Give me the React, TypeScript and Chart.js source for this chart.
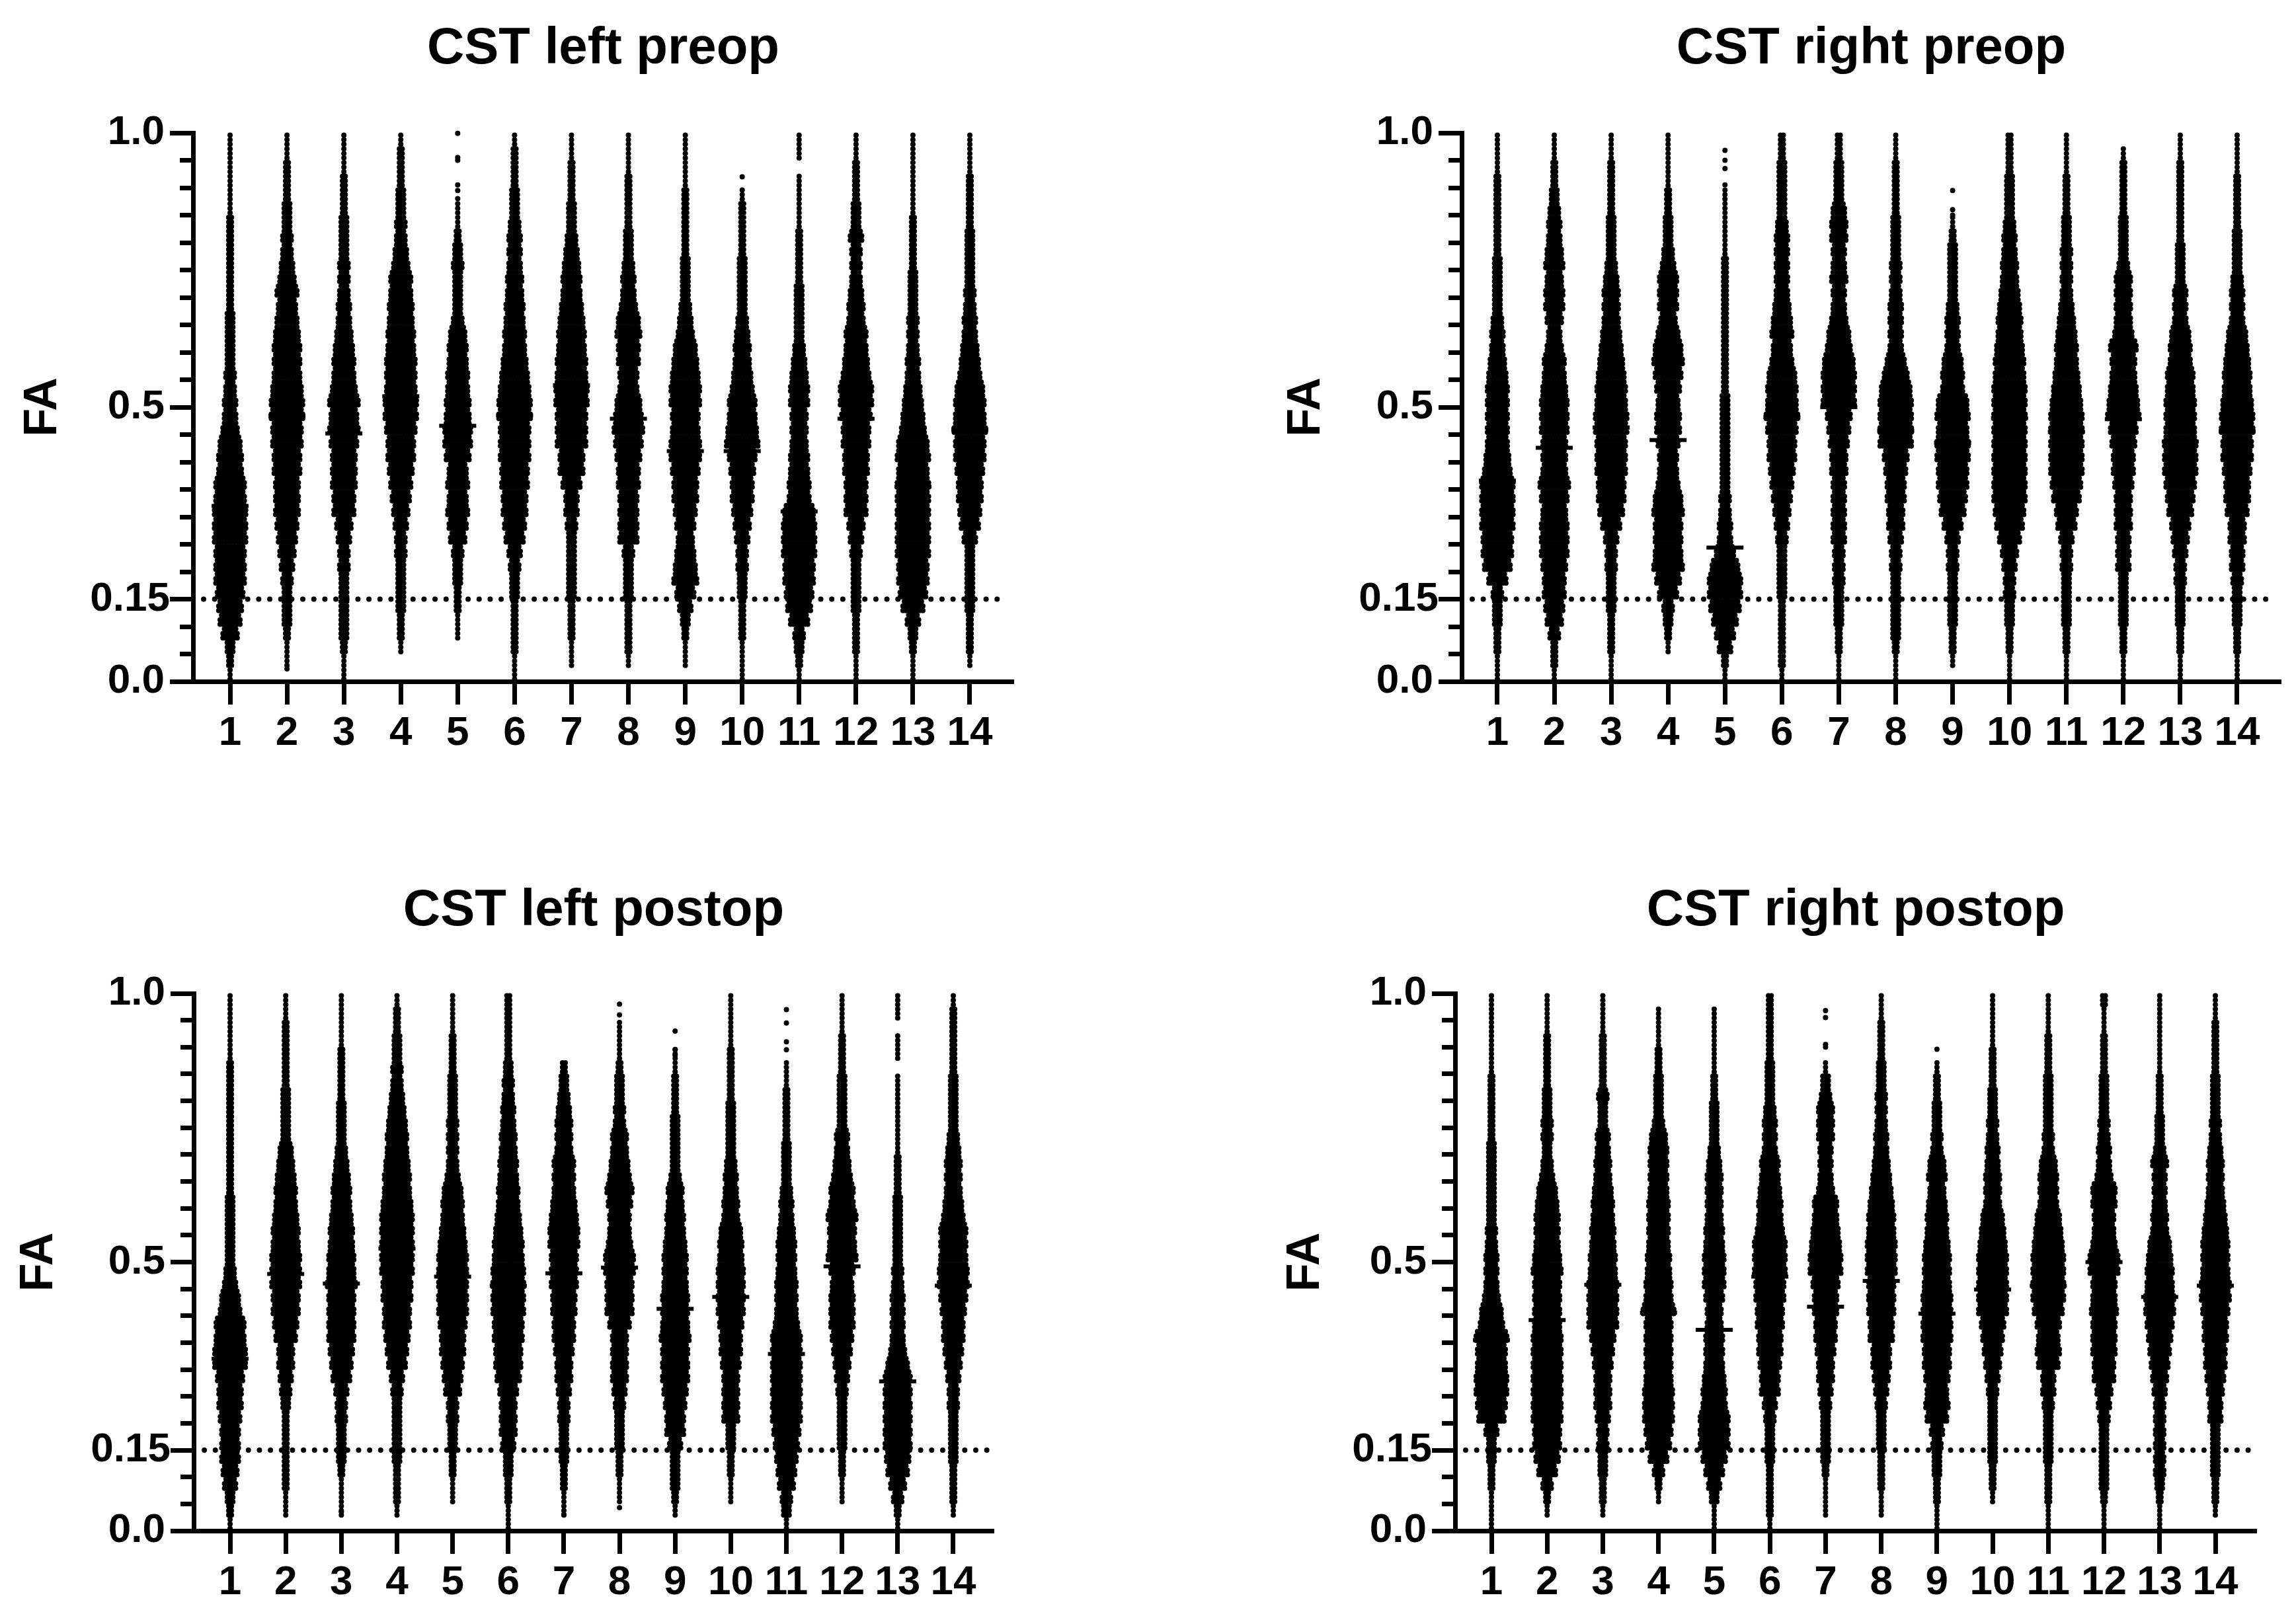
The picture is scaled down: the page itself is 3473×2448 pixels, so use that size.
import React, { useEffect, useRef } from "react";
import { Chart, registerables } from "chart.js";

Chart.register(...registerables);

const categories = [1, 2, 3, 4, 5, 6, 7, 8, 9, 10, 11, 12, 13, 14];
const yTicks = [0, 0.05, 0.1, 0.15, 0.2, 0.25, 0.3, 0.35, 0.4, 0.45, 0.5, 0.55, 0.6, 0.65, 0.7, 0.75, 0.8, 0.85, 0.9, 0.95, 1];
const yLabels: Record<string, string> = { "0": "0.0", "0.15": "0.15", "0.5": "0.5", "1": "1.0" };
const threshold = 0.15;
const binSize = 0.025; // each list below: swarm width in dots for FA bands 0-0.025, 0.025-0.05, ...

const leftPreop = [
  [1,2,3,6,8,9,10,11,11,11,12,12,12,11,11,9,9,8,6,5,5,4,4,3,3,3,3,2,2,2,2,2,2,2,1,1,1,1,1,1],
  [0,1,1,2,3,3,3,4,5,6,7,8,9,9,9,10,10,11,11,12,12,11,10,10,10,9,8,7,8,6,5,4,4,3,3,2,2,2,1,1],
  [1,1,2,3,3,3,3,3,4,4,5,6,8,8,9,9,9,10,11,10,11,9,8,8,7,6,5,5,4,4,4,3,3,3,2,2,2,1,1,1],
  [0,0,1,2,2,3,3,3,3,4,4,5,6,7,8,9,10,10,11,12,12,11,11,11,10,10,9,9,8,8,6,5,4,4,3,3,2,2,2,1],
  [0,0,0,1,1,2,2,3,3,4,6,7,8,7,8,7,9,10,10,9,9,8,8,7,7,6,4,3,3,3,4,3,2,1,1,0,0,0,0,0],
  [1,1,2,2,2,2,3,3,4,5,7,8,9,9,10,10,11,11,11,12,12,11,10,9,8,8,7,7,6,6,5,5,5,4,3,3,2,2,2,1],
  [0,1,1,2,2,2,3,3,3,3,3,4,5,5,7,9,9,11,11,11,12,12,11,11,10,10,9,8,7,7,6,5,4,3,3,2,2,2,1,1],
  [0,1,2,2,2,2,3,3,3,4,7,7,7,7,8,8,9,10,11,10,9,7,7,8,8,9,8,6,5,5,4,3,3,2,2,2,2,1,1,1],
  [0,1,1,2,3,5,7,9,8,7,6,7,8,9,9,10,11,11,10,10,11,11,10,9,8,6,5,4,3,3,3,2,2,2,2,2,1,1,1,1],
  [1,1,1,2,2,2,3,3,4,4,5,6,7,8,8,9,10,12,11,10,10,8,7,6,6,5,4,3,3,3,3,2,2,2,2,1,0,0,0,0],
  [1,2,3,4,7,9,10,11,11,12,12,12,11,8,8,7,7,6,6,6,7,7,6,5,4,3,3,3,3,2,2,2,2,1,1,1,1,0,1,1],
  [1,1,2,2,2,3,3,3,3,4,5,6,8,8,8,9,9,10,10,11,12,12,10,9,8,8,6,6,5,4,4,4,5,3,3,2,2,2,1,1],
  [1,1,2,3,5,8,10,11,11,12,12,12,12,12,12,11,12,11,9,8,7,6,5,5,4,4,4,3,3,3,2,2,2,2,1,1,1,1,1,1],
  [0,1,2,2,2,3,3,3,3,3,5,7,8,9,9,10,11,11,12,11,11,10,8,7,6,5,5,4,4,3,3,3,3,2,2,2,2,1,1,1],
];
const rightPreop = [
  [1,1,2,2,3,3,4,7,10,11,11,12,12,12,12,10,9,8,8,8,8,8,7,6,5,5,4,3,3,3,3,2,2,2,2,2,2,1,1,1],
  [1,2,2,4,6,7,8,8,9,10,10,10,9,10,11,9,9,9,10,10,10,9,8,8,6,5,6,7,7,6,7,6,5,5,4,3,2,2,1,1],
  [1,1,2,2,2,3,3,3,4,4,5,7,9,10,10,11,11,11,12,12,11,11,10,9,8,7,6,6,6,5,4,3,3,3,2,2,2,2,1,1],
  [0,0,1,2,3,4,7,9,11,10,10,10,11,10,8,7,7,8,9,9,8,9,10,11,10,8,6,7,7,7,5,4,3,3,2,2,1,1,1,1],
  [1,2,5,7,9,11,12,12,10,7,5,5,4,4,3,3,3,3,3,3,3,2,2,2,2,2,2,2,2,2,2,1,1,1,1,1,0,0,0,0],
  [1,2,2,2,2,2,3,3,3,3,4,5,6,7,8,9,10,10,11,12,11,11,10,8,7,8,7,6,5,5,5,5,5,4,3,3,3,3,2,2],
  [1,1,2,2,3,3,3,4,4,4,5,5,5,5,5,6,6,7,8,9,12,12,12,11,9,8,6,5,5,6,5,5,6,6,5,3,3,3,2,2],
  [1,1,2,3,3,3,3,3,4,4,5,6,6,7,7,8,9,12,12,12,12,11,9,7,5,5,5,5,4,4,4,3,3,3,2,2,2,2,1,1],
  [0,1,2,2,3,3,3,3,4,4,5,7,9,10,11,11,12,12,11,12,11,8,8,7,5,5,5,4,3,3,3,3,2,1,0,0,0,0,0,0],
  [1,1,2,2,3,3,4,4,5,6,8,10,11,12,12,12,12,12,12,12,12,12,11,11,10,9,9,8,7,6,6,5,5,4,3,3,3,2,2,2],
  [1,1,2,2,3,3,3,3,4,4,5,7,8,10,11,12,12,12,12,12,11,10,9,8,8,7,6,5,4,4,4,4,3,3,2,2,2,1,1,1],
  [1,1,2,2,3,3,3,3,5,5,5,6,6,6,7,8,8,9,10,12,11,10,9,9,10,7,6,6,6,6,4,3,3,3,2,2,2,2,1,0],
  [1,1,2,2,3,3,3,4,4,5,6,7,9,10,11,12,12,12,11,11,11,10,10,8,8,7,5,5,5,3,3,3,2,2,2,2,2,2,1,1],
  [1,1,2,2,3,3,3,4,5,5,6,6,8,9,9,10,11,11,12,12,11,10,10,9,8,7,5,5,5,4,3,3,3,2,2,2,2,1,1,1],
];
const leftPostop = [
  [1,2,3,5,6,7,7,7,8,9,9,10,12,12,11,11,8,7,5,4,3,3,3,3,3,2,2,2,2,2,2,2,2,2,2,1,1,1,1,1],
  [0,1,1,2,2,2,2,2,2,3,4,5,6,6,8,9,10,10,11,11,11,10,10,9,8,8,7,6,5,3,3,3,3,2,2,2,2,2,1,1],
  [0,1,1,1,2,3,3,3,4,4,5,7,8,9,10,10,10,10,11,10,10,9,9,8,7,7,6,5,4,3,3,3,2,2,2,2,1,1,1,1],
  [0,1,2,2,2,3,3,3,3,3,4,5,7,8,9,10,10,11,11,12,12,12,12,12,11,10,10,9,8,8,7,6,5,4,4,3,3,2,2,1],
  [0,0,1,1,2,2,3,3,4,4,6,7,8,9,9,10,11,11,11,11,11,10,9,8,8,7,5,4,4,4,4,3,3,3,2,2,2,1,1,1],
  [1,1,2,2,3,3,5,6,6,6,7,9,10,10,11,11,12,12,12,12,11,11,10,9,8,8,7,7,6,6,5,5,4,4,3,2,2,2,2,2],
  [0,1,1,2,2,3,3,3,4,4,5,6,6,7,8,8,9,9,10,10,10,11,11,10,9,8,8,8,6,6,6,5,4,3,2,0,0,0,0,0],
  [0,0,1,1,2,2,3,3,3,4,5,6,6,6,6,8,10,10,10,11,11,9,8,8,9,10,8,7,6,6,4,4,3,3,2,1,1,1,0,0],
  [0,1,2,3,3,3,5,7,7,8,9,10,10,10,11,10,10,10,9,9,9,8,7,7,6,6,4,3,3,3,3,2,2,2,1,1,0,0,0,0],
  [0,0,1,1,2,2,3,3,6,6,6,6,7,8,8,9,10,10,10,10,9,9,8,6,6,5,5,4,3,3,3,3,2,2,2,2,1,1,1,1],
  [1,3,4,6,7,8,9,10,11,11,11,11,11,11,11,9,8,8,8,7,7,7,6,5,5,4,3,3,3,2,2,2,2,1,1,0,0,0,0,0],
  [0,0,1,1,2,2,3,3,3,3,4,5,6,7,8,9,9,9,8,9,11,10,10,11,9,9,7,6,5,5,3,3,3,3,2,2,2,1,1,1],
  [1,2,4,6,8,9,10,10,10,10,10,10,8,6,5,5,5,5,4,4,3,3,3,3,3,2,2,2,1,1,1,1,1,1,0,1,1,0,1,1],
  [0,1,2,2,2,3,3,3,3,4,4,5,6,7,8,8,9,10,11,11,10,10,10,8,7,6,6,6,5,4,3,3,3,3,2,2,2,2,2,1],
];
const rightPostop = [
  [1,1,1,2,2,3,3,5,10,11,12,12,11,11,12,9,8,6,5,5,5,4,4,3,3,3,3,3,3,2,2,2,2,2,1,1,1,1,1,1],
  [0,1,2,4,7,9,10,10,11,11,11,11,11,11,11,10,10,10,10,11,10,9,9,9,8,7,5,4,3,4,4,3,3,2,2,2,2,1,1,1],
  [0,1,2,2,3,3,4,4,5,6,6,6,7,8,9,11,11,11,11,10,10,9,9,8,8,7,6,6,5,5,3,3,4,2,2,2,2,1,1,1],
  [0,0,1,2,4,7,9,10,11,11,11,10,10,10,10,10,12,10,10,9,9,8,8,8,8,7,7,7,7,6,4,3,3,3,2,2,1,1,1,0],
  [1,1,3,5,7,9,11,11,11,9,9,8,7,7,7,6,6,7,8,8,8,7,7,6,6,6,6,5,4,3,3,3,2,2,1,1,1,1,1,0],
  [1,2,2,2,2,3,3,3,4,5,7,7,8,9,9,10,10,11,11,12,12,12,10,9,9,8,7,7,5,5,5,4,3,3,3,2,2,2,2,2],
  [0,1,1,1,2,3,3,3,3,4,5,6,6,7,8,8,9,9,10,12,12,11,10,9,9,6,5,5,5,6,6,6,4,3,1,0,0,0,0,0],
  [0,1,1,2,2,2,3,3,3,4,5,6,7,7,9,9,10,10,10,11,11,11,10,10,9,8,7,6,5,5,4,4,4,3,3,2,2,2,1,1],
  [1,1,2,2,3,3,4,5,8,9,8,9,10,10,11,11,11,11,10,10,10,9,8,8,7,6,7,6,4,4,3,3,2,2,1,0,0,0,0,0],
  [0,0,1,2,2,3,3,3,3,3,4,5,6,7,8,9,11,11,11,11,11,10,9,8,6,6,6,5,5,4,4,3,3,2,2,2,1,1,1,1],
  [1,1,2,2,2,3,3,3,3,4,5,5,8,9,8,9,11,12,12,12,12,11,10,9,7,7,7,6,4,4,3,3,3,3,2,2,2,1,1,1],
  [1,1,2,3,3,3,3,3,4,5,6,8,8,9,9,9,10,9,9,11,11,9,8,8,9,9,6,5,5,4,4,3,3,3,2,2,2,1,1,2],
  [1,1,2,3,4,4,4,4,4,4,5,6,7,8,9,10,11,11,10,10,9,8,6,6,5,5,5,6,4,3,3,2,2,2,1,1,1,1,1,1],
  [0,1,2,2,3,3,3,3,5,5,6,7,8,8,9,9,10,11,11,10,10,10,9,8,7,6,6,6,5,4,4,3,3,3,2,2,2,2,1,1],
];

const leftPreopMedians = [0.32, 0.484, 0.452, 0.52, 0.466, 0.485, 0.54, 0.479, 0.42, 0.42, 0.31, 0.479, 0.355, 0.459];
const rightPreopMedians = [0.366, 0.426, 0.463, 0.44, 0.244, 0.482, 0.5, 0.457, 0.435, 0.48, 0.455, 0.478, 0.437, 0.456];
const leftPostopMedians = [0.32, 0.478, 0.46, 0.525, 0.473, 0.456, 0.479, 0.49, 0.413, 0.435, 0.329, 0.492, 0.278, 0.456];
const rightPostopMedians = [0.355, 0.392, 0.458, 0.406, 0.374, 0.473, 0.417, 0.465, 0.404, 0.449, 0.456, 0.5, 0.435, 0.456];

// isolated dots: [category, FA]
const leftPreopOutliers = [[2,0.023],[5,0.999],[5,0.955],[5,0.95],[5,0.905],[5,0.895],[5,0.88],[10,0.92]];
const rightPreopOutliers = [[5,0.968],[5,0.95],[5,0.935],[5,0.905],[9,0.895],[9,0.86],[9,0.85]];
const leftPostopOutliers = [[3,0.035],[7,0.03],[8,0.98],[8,0.96],[8,0.043],[9,0.93],[9,0.895],[9,0.885],[11,0.97],[11,0.945],[11,0.91],[11,0.895]];
const rightPostopOutliers = [[7,0.968],[7,0.955],[7,0.905],[7,0.9],[9,0.896]];

const FONT = "'Liberation Sans', Arial, sans-serif";
const SUBROWS = 3;
const DOT_STEP = 0.05;

type PanelDef = {
  title: string; cols: number[][]; medians: number[]; outliers: number[][];
  left: number; top: number; width: number; height: number;
  areaL: number; areaT: number; areaR: number; areaB: number;
  xMin: number; xMax: number; lineX: number[]; titleCy: number; faCx: number;
};

const panels: PanelDef[] = [
  { title: "CST left preop", cols: leftPreop, medians: leftPreopMedians, outliers: leftPreopOutliers,
    left: 0, top: 0, width: 1700, height: 1200, areaL: 292, areaT: 201, areaR: 1533, areaB: 1031,
    xMin: 0.349, xMax: 14.767, lineX: [0.535, 14.64], titleCy: 74, faCx: 66 },
  { title: "CST right preop", cols: rightPreop, medians: rightPreopMedians, outliers: rightPreopOutliers,
    left: 1700, top: 0, width: 1773, height: 1200, areaL: 2211, areaT: 201, areaR: 3450, areaB: 1031,
    xMin: 0.373, xMax: 14.767, lineX: [0.558, 14.65], titleCy: 74, faCx: 1977 },
  { title: "CST left postop", cols: leftPostop, medians: leftPostopMedians, outliers: leftPostopOutliers,
    left: 0, top: 1290, width: 1700, height: 1158, areaL: 293, areaT: 1503, areaR: 1503, areaB: 2316,
    xMin: 0.346, xMax: 14.725, lineX: [0.537, 14.64], titleCy: 1378, faCx: 60 },
  { title: "CST right postop", cols: rightPostop, medians: rightPostopMedians, outliers: rightPostopOutliers,
    left: 1700, top: 1290, width: 1773, height: 1158, areaL: 2201, areaT: 1503, areaR: 3413, areaB: 2316,
    xMin: 0.347, xMax: 14.736, lineX: [0.537, 14.66], titleCy: 1378, faCx: 1976 },
];

const shiftLabels = {
  id: "shiftLabels",
  beforeDraw(chart: any) {
    const items = chart.scales.y.getLabelItems();
    if (items.__shifted) return;
    items.__shifted = true;
    for (const it of items) if (it.label !== "0.15") it.options.translation[0] -= 8;
  },
};

function swarm(col: number[], category: number) {
  const pts: { x: number; y: number }[] = [];
  col.forEach((n, i) => {
    for (let s = 0; s < SUBROWS; s++) {
      const y = (i + (s + 0.5) / SUBROWS) * binSize;
      // the last sub-row of a band is one dot narrower, which leaves the scalloped edge of a swarm
      const across = s === SUBROWS - 1 && n >= 4 ? n - 1 : n;
      for (let k = 0; k < across; k++) pts.push({ x: category + (k - (across - 1) / 2) * DOT_STEP, y });
    }
  });
  return pts;
}

function Panel({ p }: { p: PanelDef }) {
  const ref = useRef<HTMLCanvasElement>(null);
  useEffect(() => {
    const titleSize = 78;
    const padTop = p.titleCy - p.top - titleSize / 2;
    const padBottom = p.areaT - p.top - padTop - titleSize;
    const faSize = 70;
    const chart = new Chart(ref.current as HTMLCanvasElement, {
      type: "scatter",
      plugins: [shiftLabels],
      data: {
        datasets: [
          ...categories.map((c, i) => ({
            label: String(c),
            data: [
              ...swarm(p.cols[i], c),
              ...p.outliers.filter((o) => o[0] === c).map((o) => ({ x: o[0], y: o[1] })),
            ],
            parsing: false,
            pointRadius: 4,
            pointBorderWidth: 0,
            pointBackgroundColor: "#000",
            clip: false,
          })),
          {
            label: "median",
            data: categories.map((c, i) => ({ x: c, y: p.medians[i] })),
            pointStyle: "line",
            pointRadius: 28,
            pointBorderWidth: 6,
            pointBorderColor: "#000",
            clip: false,
          },
          {
            label: "threshold",
            data: p.lineX.map((x) => ({ x, y: threshold })),
            showLine: true,
            pointRadius: 0,
            borderColor: "#000",
            borderWidth: 8,
            borderDash: [0, 16.67],
            borderCapStyle: "round",
            clip: false,
          },
        ] as any,
      },
      options: {
        animation: false,
        responsive: false,
        devicePixelRatio: 1,
        events: [],
        layout: { autoPadding: false, padding: { left: 0, top: 0, bottom: 0, right: p.left + p.width - p.areaR } },
        plugins: {
          legend: { display: false },
          tooltip: { enabled: false },
          title: {
            display: true, text: p.title, color: "#000", fullSize: false,
            font: { family: FONT, size: titleSize, weight: "bold", lineHeight: 1 },
            padding: { top: padTop, bottom: padBottom },
          },
        },
        scales: {
          x: {
            type: "linear", min: p.xMin, max: p.xMax,
            afterBuildTicks: (s: any) => { s.ticks = categories.map((value) => ({ value })); },
            afterFit: (s: any) => { s.height = p.top + p.height - p.areaB; },
            border: { color: "#000", width: 7 },
            grid: { drawOnChartArea: false, drawTicks: true, tickLength: 35, tickWidth: 7, tickColor: "#000" },
            ticks: {
              color: "#000", padding: 7, autoSkip: false, maxRotation: 0, minRotation: 0,
              font: { family: FONT, size: 62, weight: "bold" },
              callback: (v: any) => String(v),
            },
          },
          y: {
            type: "linear", min: 0, max: 1,
            afterBuildTicks: (s: any) => { s.ticks = yTicks.map((value) => ({ value })); },
            afterFit: (s: any) => { s.width = p.areaL - p.left; },
            border: { color: "#000", width: 7 },
            title: {
              display: true, text: "FA", color: "#000",
              font: { family: FONT, size: faSize, weight: "bold", lineHeight: 1 },
              padding: { top: p.faCx - p.left - faSize / 2, bottom: 0 },
            },
            grid: {
              drawOnChartArea: false, drawTicks: true, tickLength: 35, tickWidth: 7, tickColor: "#000",
              tickBorderDash: (ctx: any) => (yLabels[String(ctx.tick?.value)] ? [] : [0, 15, 20, 0]),
            },
            ticks: {
              color: "#000", padding: 0, autoSkip: false,
              font: { family: FONT, size: 62, weight: "bold" },
              callback: (v: any) => yLabels[String(v)] ?? "",
            },
          },
        },
      } as any,
    });
    return () => chart.destroy();
  }, [p]);
  return (
    <canvas
      ref={ref}
      width={p.width}
      height={p.height}
      style={{ position: "absolute", left: p.left, top: p.top, width: p.width, height: p.height }}
    />
  );
}

export default function App() {
  return (
    <div style={{ position: "absolute", left: 0, top: 0, width: 3473, height: 2448, background: "#fff", overflow: "hidden" }}>
      {panels.map((p) => <Panel key={p.title} p={p} />)}
    </div>
  );
}
